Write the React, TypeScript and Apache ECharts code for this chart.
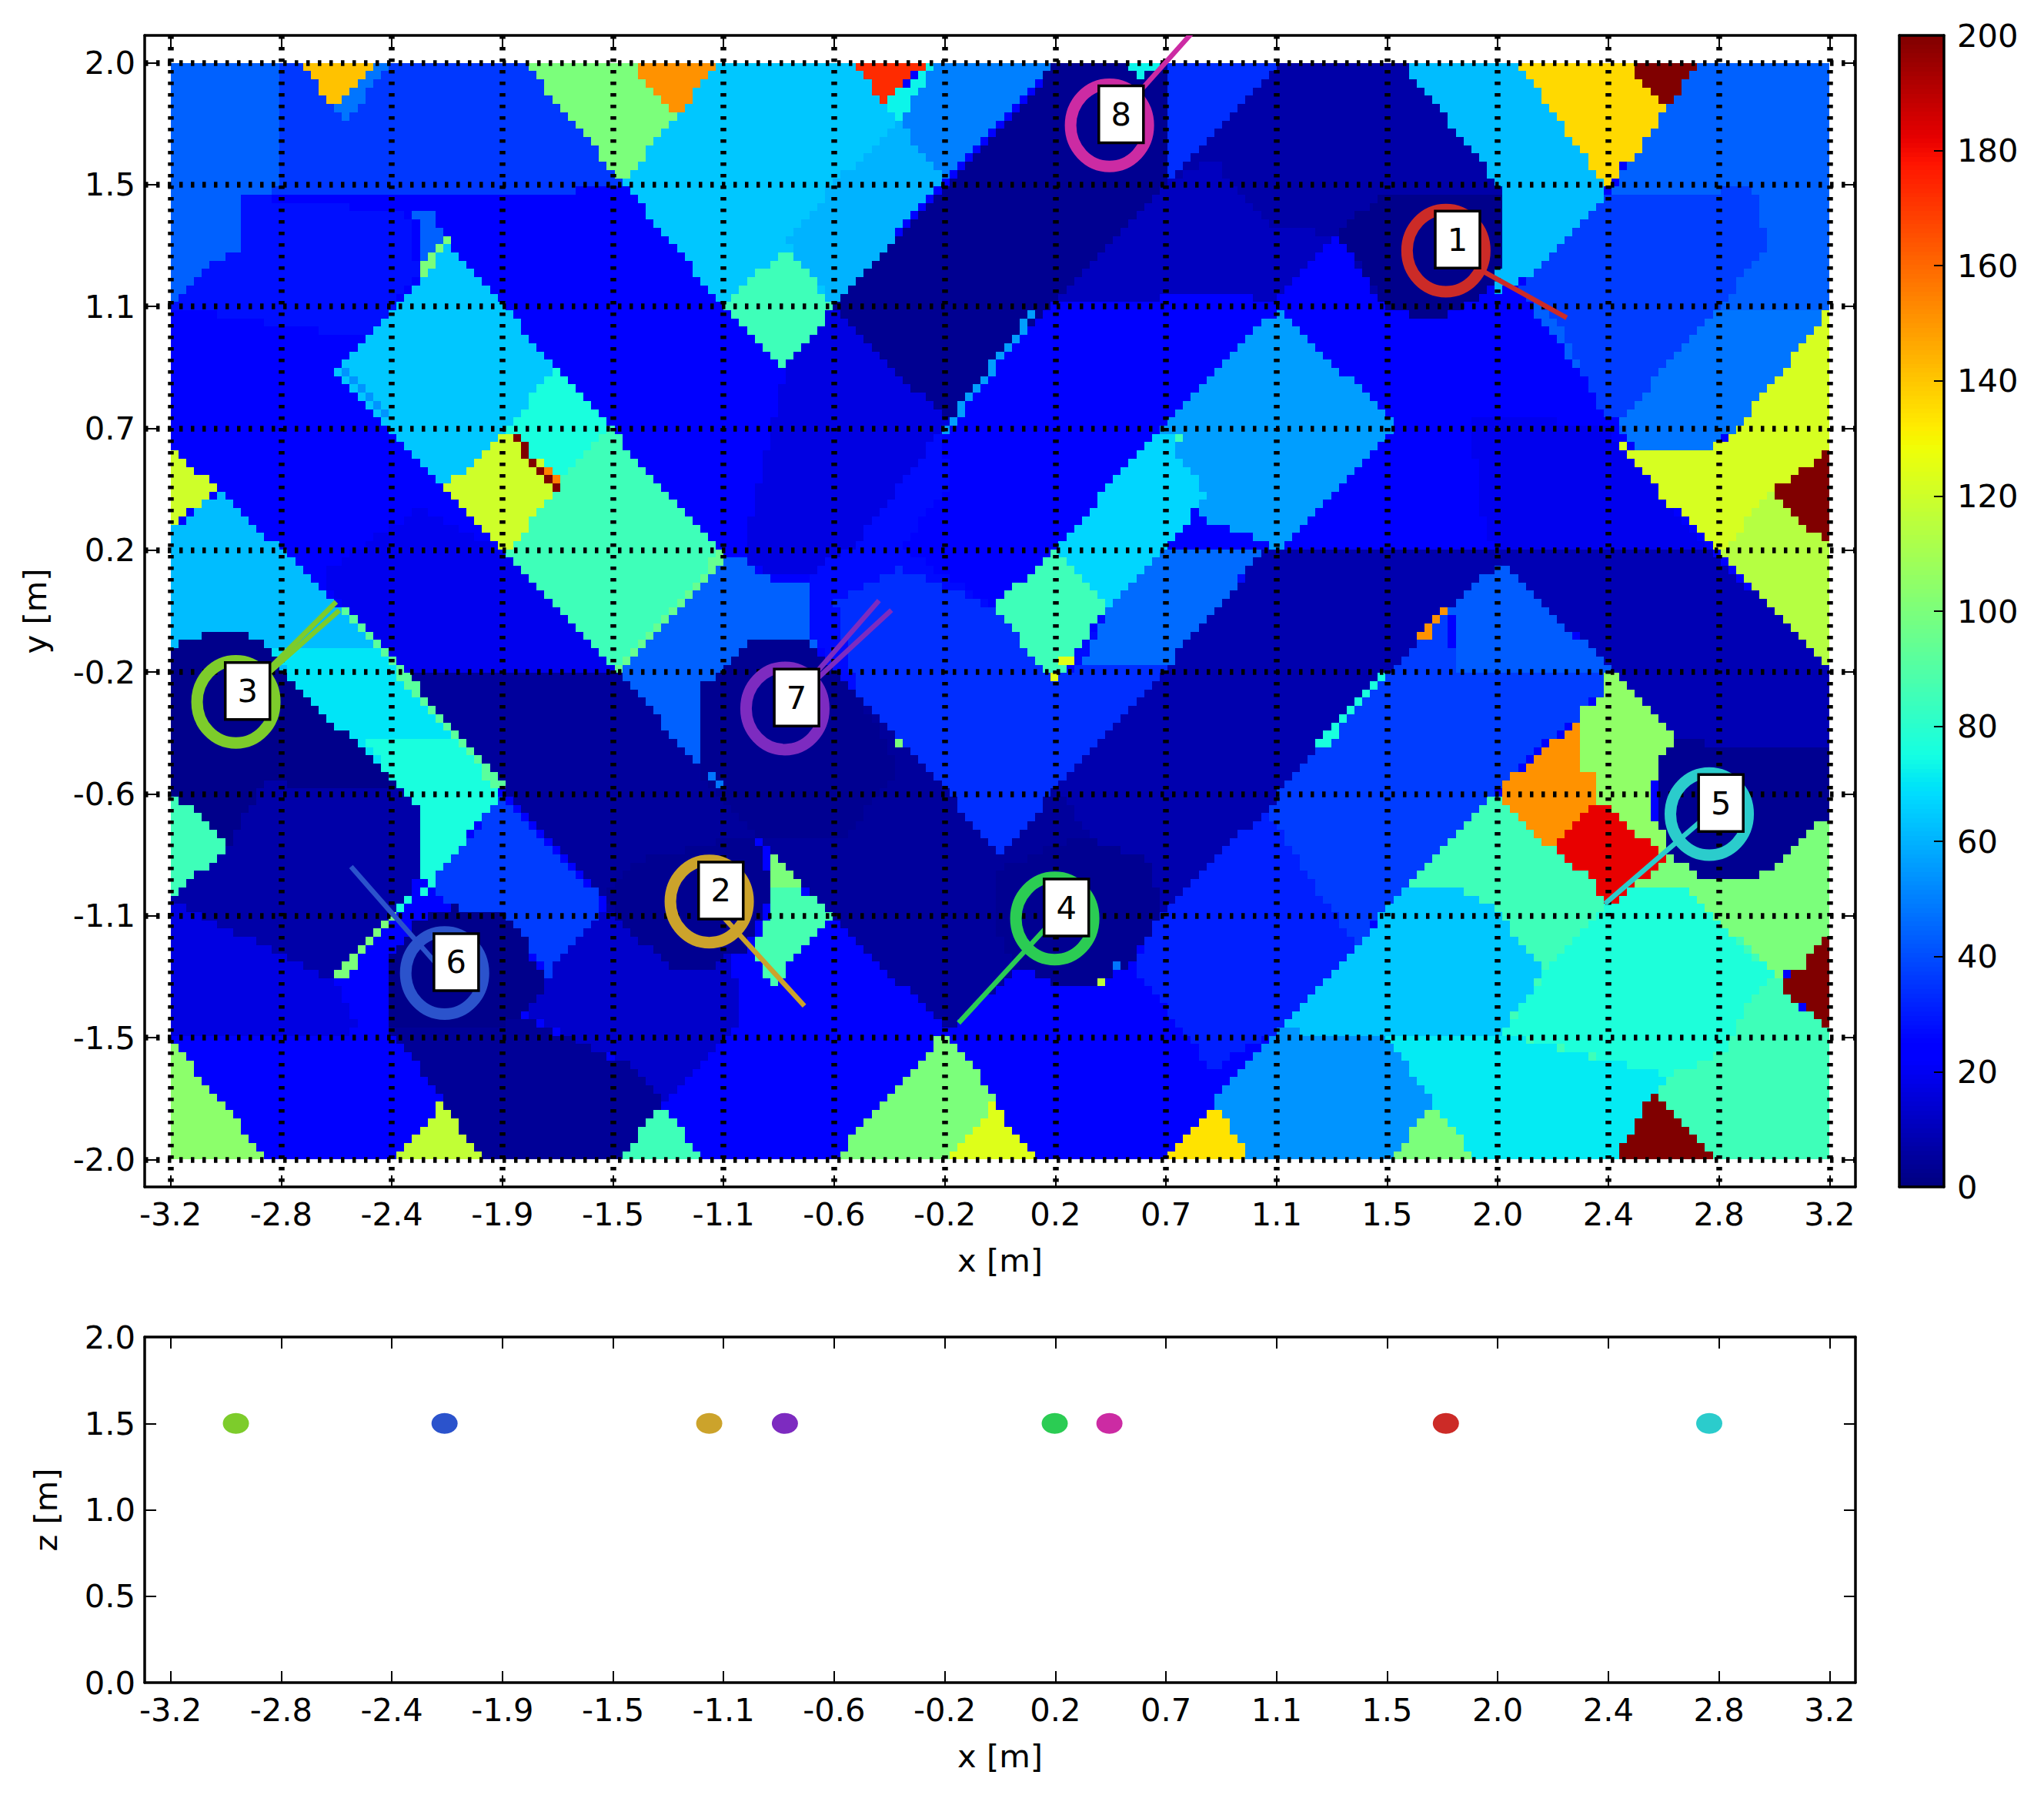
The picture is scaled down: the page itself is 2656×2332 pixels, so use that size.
import React, { useEffect, useRef } from "react";
import * as echarts from "echarts";

const xTickValues = [-3.2, -2.7733, -2.3467, -1.92, -1.4933, -1.0667, -0.64, -0.2133, 0.2133, 0.64, 1.0667, 1.4933, 1.92, 2.3467, 2.7733, 3.2];
const xTickLabels = ["-3.2", "-2.8", "-2.4", "-1.9", "-1.5", "-1.1", "-0.6", "-0.2", "0.2", "0.7", "1.1", "1.5", "2.0", "2.4", "2.8", "3.2"];
const yTickValues = [-2, -1.5556, -1.1111, -0.6667, -0.2222, 0.2222, 0.6667, 1.1111, 1.5556, 2];
const yTickLabels = ["-2.0", "-1.5", "-1.1", "-0.6", "-0.2", "0.2", "0.7", "1.1", "1.5", "2.0"];

const speakerIds = ["1", "2", "3", "4", "5", "6", "7", "8"];
const speakerX = [1.72, -1.122, -2.948, 0.211, 2.736, -2.143, -0.83, 0.422];
const speakerY = [1.315, -1.059, -0.331, -1.121, -0.74, -1.32, -0.355, 1.772];
const speakerZ = [1.5, 1.5, 1.5, 1.5, 1.5, 1.5, 1.5, 1.5];
const speakerColors = ["#cc2b27", "#cca32b", "#7dcc2b", "#2bcc53", "#2bcccc", "#2b53cc", "#7d2bc0", "#cc2ba3"];
// speaker index, end of the ray (x, y) in metres
const rays = [
  [0, 2.186, 1.07], [1, -0.755, -1.44], [2, -2.561, 0.034], [2, -2.549, 0.003], [3, -0.16, -1.502],
  [4, 2.334, -1.067], [5, -2.504, -0.932], [6, -0.467, 0.039], [6, -0.419, 0.004], [7, 0.76, 2.13],
];

const baseValue = 23;
const regions: number[][] = [
  [28, -2.919,1.515, -2.286,1.453, -2.246,1.225, -2.447,0.992, -3.2,1.11],
  [36, -3.2,2, -1.835,2, -1.458,1.572, -1.493,1.539, -2.126,1.515, -2.919,1.515, -3.2,1.11],
  [44, -3.2,2, -2.788,2, -2.788,1.539, -2.919,1.515, -2.919,1.334, -3.024,1.277, -3.2,1.125],
  [44, -2.286,1.453, -2.196,1.453, -2.141,1.386, -2.246,1.225, -2.246,1.425],
  [48, -2.417,2, -2.362,2, -2.522,1.772, -2.557,1.824, -2.572,1.829],
  [141, -2.693,2, -2.417,2, -2.572,1.829],
  [100, -1.835,2, -1.423,2, -1.252,1.8, -1.458,1.567],
  [151, -1.423,2, -1.087,2, -1.252,1.796],
  [64, -1.458,1.567, -1.252,1.796, -1.087,2, -0.559,2, -0.459,1.857, -0.389,1.796, -0.208,1.581, -0.64,1.115, -1.071,1.115],
  [60, -0.389,1.781, -0.208,1.581, -0.64,1.115, -0.715,1.206, -0.825,1.349, -0.64,1.562],
  [50, -0.278,2, 0.224,2, -0.208,1.581, -0.389,1.776, -0.338,1.895],
  [173, -0.559,2, -0.278,2, -0.459,1.857],
  [73, -0.278,2, -0.238,2, -0.389,1.796, -0.444,1.857, -0.364,1.914],
  [11, 0.645,1.562, 1.027,1.967, 1.067,2, 1.554,2, 1.9,1.581, 1.94,1.505, 1.94,1.282, 1.885,1.163, 1.73,1.082, 1.589,1.082, 1.484,1.115, 1.298,1.367, 1.067,1.13, 0.866,1.158, 0.194,1.115, 0.58,1.5],
  [7, 1.027,1.967, 1.067,2, 1.554,2, 1.9,1.581, 1.94,1.505, 1.94,1.282, 1.885,1.163, 1.73,1.082, 1.589,1.082, 1.484,1.115, 1.298,1.367, 1.017,1.42, 0.816,1.656, 0.645,1.562],
  [2, 1.338,1.425, 1.499,1.524, 1.885,1.524, 1.94,1.505, 1.94,1.282, 1.885,1.163, 1.73,1.082, 1.589,1.082, 1.484,1.115, 1.438,1.191, 1.308,1.367],
  [3, 0.224,2, 0.64,2, 0.64,1.562, 0.58,1.5, -0.208,0.692, -0.64,1.115],
  [17, -0.64,1.115, -0.208,0.692, -0.238,0.649, -0.559,0.245, -0.725,0.14, -0.876,0.121, -0.971,0.179, -0.966,0.326, -0.831,0.878],
  [85, -0.831,1.329, -0.64,1.115, -0.831,0.878, -1.056,1.115],
  [56, -0.238,0.649, 0.119,1.096, 0.149,1.096, -0.208,0.649],
  [34, 0.64,2, 1.067,2, 0.645,1.562],
  [73, 0.475,2, 0.63,2, 0.535,1.948],
  [62, 1.554,2, 2,2, 2.337,1.543, 2.347,1.515, 2,1.191, 1.89,1.163, 1.94,1.282, 1.94,1.505, 1.9,1.581],
  [136, 2,2, 2.423,2, 2.563,1.824, 2.533,1.743, 2.397,1.62, 2.357,1.534, 2.337,1.543],
  [200, 2.423,2, 2.698,2, 2.563,1.824],
  [44, 2.347,1.515, 2.563,1.824, 2.698,2, 3.2,2, 3.2,1.101, 2.864,0.692, 2.734,0.587, 2.457,0.587, 2.387,0.683, 2,1.173],
  [37, 2.347,1.515, 2.734,1.515, 2.819,1.562, 2.904,1.539, 2.95,1.386, 2.95,1.325, 2.804,1.144, 2.749,1.096, 2.387,0.692, 2.332,0.702, 2.146,1.068, 2,1.173],
  [48, 2.749,1.096, 3.2,1.101, 2.864,0.692, 2.734,0.587, 2.457,0.587, 2.387,0.692],
  [122, 3.2,1.101, 2.864,0.692, 2.784,0.621, 2.734,0.587, 2.457,0.587, 2.372,0.63, 2.423,0.526, 2.789,0.216, 2.965,0.407, 3.185,0.583, 3.2,0.583],
  [114, 2.965,0.43, 3.2,0.24, 3.2,-0.207, 2.789,0.216],
  [200, 3.2,0.592, 3.2,0.231, 2.975,0.435],
  [19, 1.82,0.707, 2.347,0.683, 2.372,0.611, 2.734,0.231, 1.906,0.226, 1.846,0.397],
  [5, -1.152,-0.587, -1.533,-1.049, -1.493,-1.101, -1.453,-1.139, -1.307,-1.272, -1.252,-1.305, -1.107,-1.305, -1.056,-1.244, -0.996,-1.244, -0.942,-0.815, -0.625,-1.129, -0.208,-1.529, 0.078,-1.3, 0.194,-1.358, 0.37,-1.358, 0.424,-1.272, 0.625,-1.101, 1.027,-0.72, 1.499,-0.216, 1.906,0.226, 1.027,0.226, 0.64,-0.207, 0.208,-0.654, 0.008,-0.892, -0.223,-0.644, -0.555,-0.292, -0.64,-0.216, -0.971,-0.116, -1.056,-0.197, -1.107,-0.245, -1.142,-0.259, -1.167,-0.345, -1.167,-0.478],
  [8, 0.64,-0.207, 1.027,0.226, 1.906,0.226, 1.93,0.179, 1.499,-0.216, 1.027,-0.72, 0.625,-1.101, 0.208,-0.654],
  [9, 1.906,0.226, 2.734,0.231, 3.2,-0.207, 3.2,-0.754, 3.09,-0.815, 3.005,-0.925, 2.9,-0.987, 2.734,-0.987, 2.588,-0.897, 2.533,-0.815, 2.533,-0.521, 2.588,-0.459, 2.382,-0.221, 2.362,-0.216, 1.93,0.179],
  [3, 2.533,-0.521, 2.608,-0.468, 2.723,-0.483, 3.2,-0.483, 3.2,-0.754, 3.09,-0.815, 3.005,-0.925, 2.9,-0.987, 2.734,-0.987, 2.588,-0.897, 2.533,-0.815],
  [27, -0.238,0.649, -0.559,0.245, -0.725,0.14, -0.725,-0.083, -0.69,-0.15, -0.64,-0.216, -0.555,-0.292, -0.223,-0.644, 0.008,-0.892, 0.208,-0.654, 0.64,-0.207, 1.027,0.226, 0.419,0.012, 0.208,-0.25, -0.027,0.012, -0.163,0.102, -0.389,0.231, -0.188,0.469],
  [34, -0.027,0.012, 0.208,-0.254, 0.304,-0.197, 0.64,-0.207, 0.208,-0.654, 0.008,-0.892, -0.223,-0.644, -0.555,-0.292, -0.64,0.04, -0.389,0.16],
  [46, 0.625,0.231, 1.027,0.231, 0.64,-0.207, 0.304,-0.197, 0.424,0.012],
  [56, 0.585,0.64, 0.655,0.71, 1.072,1.101, 1.539,0.673, 1.112,0.254, 1.067,0.231, 0.751,0.35, 0.796,0.43, 0.69,0.554],
  [67, 0.585,0.64, 0.665,0.645, 0.69,0.554, 0.796,0.43, 0.74,0.345, 0.424,0.012, 0.208,0.226, 0.239,0.254],
  [85, 0.208,0.226, 0.419,0.017, 0.208,-0.254, -0.027,0.012],
  [125, 0.239,-0.173, 0.274,-0.173, 0.274,-0.207, 0.239,-0.207],
  [125, 0.194,-0.226, 0.224,-0.226, 0.224,-0.264, 0.194,-0.264],
  [85, 0.67,0.645, 0.695,0.645, 0.695,0.607, 0.67,0.607],
  [44, -1.066,0.207, -0.971,0.179, -0.971,0.155, -0.891,0.117, -0.745,0.117, -0.725,0.14, -0.725,-0.083, -0.69,-0.15, -0.745,-0.116, -0.971,-0.116, -1.056,-0.197, -1.107,-0.245, -1.142,-0.259, -1.167,-0.345, -1.167,-0.478, -1.152,-0.587, -1.473,-0.211],
  [19, -2.623,0.136, -2.246,0.373, -1.905,0.216, -1.473,-0.211, -1.845,-0.292, -1.925,-0.654, -2.326,-0.235],
  [5, -2.326,-0.235, -1.473,-0.211, -1.152,-0.587, -1.533,-1.049, -1.925,-0.654],
  [85, -1.503,0.664, -1.066,0.207, -1.473,-0.211, -1.905,0.21, -1.7,0.478],
  [76, -1.714,0.892, -1.503,0.664, -1.7,0.478, -1.905,0.659],
  [64, -2.126,1.339, -1.719,0.897, -1.905,0.659, -2.141,0.45, -2.557,0.873],
  [120, -1.905,0.659, -1.69,0.47, -1.905,0.21, -2.141,0.45],
  [200, -1.915,0.659, -1.885,0.659, -1.689,0.445, -1.719,0.445],
  [155, -1.759,0.526, -1.729,0.526, -1.694,0.469, -1.719,0.469],
  [54, -2.557,0.882, -2.507,0.882, -2.286,0.659, -2.347,0.697],
  [100, -2.256,1.23, -2.221,1.23, -2.106,1.358, -2.141,1.358],
  [95, -1.473,-0.211, -1.066,0.231, -1.056,0.207, -1.453,-0.216],
  [62, -3.2,0.293, -3.009,0.44, -2.542,0.007, -2.326,-0.235, -1.925,-0.654, -1.94,-0.692, -2.2,-0.987, -2.251,-0.987, -2.251,-0.72, -2.286,-0.663, -2.703,-0.288, -2.768,-0.207, -2.803,-0.15, -2.839,-0.116, -2.894,-0.088, -3.09,-0.088, -3.15,-0.116, -3.2,-0.145],
  [70, -2.803,-0.15, -2.397,-0.15, -1.925,-0.654, -1.94,-0.692, -2.2,-0.987, -2.251,-0.987, -2.251,-0.72, -2.286,-0.663, -2.703,-0.288],
  [76, -2.472,-0.459, -2.121,-0.459, -1.925,-0.654, -1.94,-0.692, -2.2,-0.987, -2.251,-0.987, -2.251,-0.72],
  [92, -2.542,0.007, -2.507,0.007, -1.9,-0.654, -1.935,-0.654],
  [120, -3.2,0.587, -3.024,0.459, -3.2,0.288],
  [2, -3.2,-0.145, -3.15,-0.116, -3.09,-0.088, -2.894,-0.088, -2.839,-0.116, -2.803,-0.15, -2.768,-0.207, -2.703,-0.288, -2.286,-0.663, -2.849,-0.625, -2.969,-0.854, -3.2,-0.654],
  [7, -2.969,-0.854, -2.849,-0.625, -2.286,-0.663, -2.251,-0.72, -2.251,-0.987, -2.331,-1.091, -2.572,-1.348, -3.2,-1.053],
  [85, -3.2,-0.654, -2.969,-0.854, -3.2,-1.053],
  [17, -3.2,-1.053, -2.572,-1.348, -2.472,-1.529, -2.698,-1.557, -3.2,-1.562],
  [37, -1.92,-0.682, -1.533,-1.049, -1.538,-1.091, -1.694,-1.3, -1.744,-1.329, -1.774,-1.272, -1.825,-1.244, -1.835,-1.186, -1.885,-1.139, -1.935,-1.101, -2.025,-1.091, -2.116,-1.077, -2.2,-0.987],
  [100, -2.583,-1.353, -2.557,-1.315, -2.337,-1.091, -2.311,-1.101, -2.527,-1.329, -2.562,-1.353],
  [76, -2.331,-1.091, -2.211,-0.987, -2.186,-0.987, -2.306,-1.101],
  [4, -2.367,-1.505, -2.326,-1.562, -2.171,-1.748, -2.156,-1.795, -2,-2, -1.473,-2, -1.307,-1.795, -1.393,-1.672, -1.845,-1.481, -2.196,-1.529],
  [13, -1.744,-1.329, -1.538,-1.091, -1.453,-1.139, -1.307,-1.272, -1.252,-1.305, -1.107,-1.305, -1.056,-1.244, -0.996,-1.386, -1.016,-1.505, -1.307,-1.795, -1.393,-1.672, -1.84,-1.467, -1.774,-1.41],
  [2, -2.367,-1.282, -2.246,-1.13, -2.116,-1.077, -2.025,-1.091, -1.935,-1.101, -1.885,-1.139, -1.835,-1.186, -1.825,-1.244, -1.754,-1.339, -1.774,-1.41, -1.84,-1.467, -1.925,-1.515, -2.196,-1.529, -2.367,-1.505],
  [117, -2.156,-1.795, -2.337,-2, -1.995,-2],
  [85, -1.307,-1.795, -1.473,-2, -1.142,-2],
  [104, -3.2,-1.562, -2.828,-2, -3.2,-2],
  [3, -0.971,-0.116, -0.745,-0.116, -0.69,-0.173, -0.64,-0.216, -0.555,-0.292, -0.389,-0.578, -0.59,-0.815, -0.942,-0.815, -1.142,-0.625, -1.167,-0.478, -1.167,-0.345, -1.142,-0.259, -1.107,-0.245, -1.056,-0.197],
  [3, -1.518,-1.006, -1.393,-0.91, -1.192,-0.863, -0.981,-0.815, -0.911,-0.863, -0.891,-1.053, -0.991,-1.244, -1.056,-1.244, -1.107,-1.305, -1.252,-1.305, -1.307,-1.272, -1.453,-1.139, -1.493,-1.101],
  [3, -0.022,-0.953, 0.314,-0.815, 0.565,-0.91, 0.63,-1.101, 0.505,-1.282, 0.37,-1.358, 0.194,-1.358, 0.078,-1.3, 0.008,-1.215, -0.022,-1.139],
  [100, -0.942,-0.815, -0.69,-1.053, -0.765,-1.015, -0.891,-1.015, -0.891,-0.863],
  [87, -0.891,-1.015, -0.765,-1.015, -0.645,-1.11, -0.876,-1.362, -0.966,-1.244, -0.891,-1.101],
  [100, -0.419,-0.454, -0.389,-0.454, -0.389,-0.492, -0.419,-0.492],
  [48, 0.44,-1.272, 0.475,-1.272, 0.475,-1.31, 0.44,-1.31],
  [116, 0.39,-1.329, 0.42,-1.329, 0.42,-1.367, 0.39,-1.367],
  [48, -1.137,-0.578, -1.107,-0.578, -1.072,-0.635, -1.102,-0.635],
  [37, 1.71,-0.007, 1.77,-0.216, 2.357,-0.216, 2.337,-0.23, 2.337,-0.321, 2.287,-0.316, 2.252,-0.349, 2.252,-0.378, 2.121,-0.464, 1.93,-0.644, 1.835,-0.72, 1.559,-1.015, 1.368,-1.224, 1.167,-1.434, 0.967,-0.863, 1.027,-0.72, 1.499,-0.216],
  [43, 1.93,0.179, 2.357,-0.216, 1.77,-0.216, 1.745,-0.031, 1.71,-0.007],
  [31, 1.027,-0.72, 1.368,-1.224, 1.167,-1.434, 1.067,-1.529, 0.816,-1.672, 0.515,-1.291, 0.625,-1.101],
  [76, 1.208,-0.506, 1.454,-0.235, 1.489,-0.235, 1.243,-0.506],
  [151, 1.609,-0.107, 1.644,-0.107, 1.72,0.002, 1.69,0.002],
  [85, 2.4,-1, 2.7,-1, 3.05,-1.36, 2.9,-1.42, 2.56,-1.72, 1.9,-1.56, 2,-1.3],
  [85, 1.89,-0.663, 2.141,-0.868, 2.312,-1.01, 2.332,-1.091, 2.096,-1.31, 1.911,-1.091, 1.78,-1.015, 1.564,-1.015],
  [151, 2.252,-0.378, 2.252,-0.578, 2.287,-0.578, 2.287,-0.692, 2.121,-0.863, 1.94,-0.692, 1.93,-0.644],
  [182, 2.287,-0.692, 2.337,-0.692, 2.563,-0.906, 2.362,-1.077, 2.312,-1.034, 2.312,-0.987, 2.2,-0.925, 2.141,-0.854],
  [105, 2.377,-0.226, 2.588,-0.435, 2.588,-0.488, 2.533,-0.53, 2.533,-0.606, 2.508,-0.625, 2.508,-0.758, 2.563,-0.815, 2.563,-0.906, 2.337,-0.692, 2.287,-0.692, 2.287,-0.578, 2.252,-0.578, 2.252,-0.349, 2.337,-0.321, 2.337,-0.23],
  [100, 3.2,-0.754, 3.09,-0.815, 3.005,-0.925, 2.9,-0.987, 2.734,-0.987, 2.588,-0.897, 2.563,-0.91, 2.473,-0.987, 2.423,-1.015, 2.649,-1.015, 2.739,-1.101, 2.849,-1.196, 2.985,-1.329, 3.09,-1.305, 3.175,-1.186, 3.2,-1.186],
  [200, 3.2,-1.177, 3.2,-1.539, 3.005,-1.362, 3.09,-1.3],
  [85, 3.2,-1.529, 3.005,-1.377, 2.92,-1.396, 2.849,-1.481, 2.809,-1.591, 2.673,-1.657, 2.583,-1.695, 2.518,-1.767, 2.754,-2, 3.2,-2],
  [200, 2.518,-1.767, 2.367,-2, 2.754,-2],
  [77, 2.423,-1.015, 2.649,-1.015, 2.985,-1.329, 2.92,-1.396, 2.849,-1.481, 2.809,-1.591, 2.673,-1.657, 2.583,-1.695, 2.121,-1.576, 1.926,-1.543, 2.056,-1.386, 2.096,-1.315, 2.332,-1.091],
  [64, 1.564,-1.015, 1.78,-1.015, 1.911,-1.091, 2.096,-1.315, 1.926,-1.543, 1.489,-1.553, 1.067,-1.539],
  [54, 1.067,-1.529, 1.489,-1.553, 1.669,-1.79, 1.504,-2, 0.972,-2, 0.82,-1.795],
  [71, 1.926,-1.543, 2.583,-1.695, 2.518,-1.767, 2.367,-2, 1.835,-2, 1.669,-1.795, 1.489,-1.553],
  [100, 1.669,-1.795, 1.504,-2, 1.835,-2],
  [134, 0.82,-1.795, 0.64,-2, 0.972,-2],
  [100, -0.213,-1.534, -0.027,-1.757, -0.027,-1.8, -0.1,-2, -0.64,-2],
  [124, -0.027,-1.795, -0.193,-2, 0.139,-2],
];

const colorbarTop = 200;
const colorbarSteps = 256;
const FONT = "DejaVu Sans";
const FS = 41.67;
const BLACK = "#000";

const lerpTable = (t: number, tbl: number[][]) => {
  for (let i = 1; i < tbl.length; i++) {
    if (t <= tbl[i][0]) {
      const [a, va] = tbl[i - 1];
      const [b, vb] = tbl[i];
      return va + ((t - a) / (b - a)) * (vb - va);
    }
  }
  return tbl[tbl.length - 1][1];
};
const jetR = [[0, 0], [0.35, 0], [0.66, 1], [0.89, 1], [1, 0.5]];
const jetG = [[0, 0], [0.125, 0], [0.375, 1], [0.64, 1], [0.91, 0], [1, 0]];
const jetB = [[0, 0.5], [0.11, 1], [0.34, 1], [0.65, 0], [1, 0]];
const jet = (v: number) => {
  const t = Math.max(0, Math.min(1, v / colorbarTop));
  const c = (tbl: number[][]) => Math.round(lerpTable(t, tbl) * 255);
  return `rgb(${c(jetR)},${c(jetG)},${c(jetB)})`;
};

const inside = (x: number, y: number, r: number[]) => {
  let hit = false;
  const n = (r.length - 1) / 2;
  for (let i = 0, j = n - 1; i < n; j = i++) {
    const xi = r[1 + 2 * i], yi = r[2 + 2 * i], xj = r[1 + 2 * j], yj = r[2 + 2 * j];
    if (yi > y !== yj > y && x < ((xj - xi) * (y - yi)) / (yj - yi) + xi) hit = !hit;
  }
  return hit;
};

// value matrix: one row per 0.03 m, adjacent equal cells are joined
const COLS = 213;
const ROWS = 133;
const buildCells = () => {
  const dx = 6.4 / COLS, dy = 4 / ROWS;
  const out: number[][] = [];
  for (let j = 0; j < ROWS; j++) {
    const y = -2 + (j + 0.5) * dy;
    let runStart = 0;
    let prev = NaN;
    for (let i = 0; i <= COLS; i++) {
      let v = NaN;
      if (i < COLS) {
        const x = -3.2 + (i + 0.5) * dx;
        v = baseValue;
        for (let k = regions.length - 1; k >= 0; k--) {
          if (inside(x, y, regions[k])) { v = regions[k][0]; break; }
        }
      }
      if (v !== prev) {
        if (i > 0) out.push([-3.2 + runStart * dx, -3.2 + i * dx, -2 + j * dy, -2 + (j + 1) * dy, prev]);
        runStart = i;
        prev = v;
      }
    }
  }
  return out;
};

const cellRect = (_: any, api: any) => {
  const a = api.coord([api.value(0), api.value(2)]);
  const b = api.coord([api.value(1), api.value(3)]);
  const x = Math.round(a[0]), r = Math.round(b[0]), t = Math.round(b[1]), bt = Math.round(a[1]);
  return { type: "rect", shape: { x, y: t, width: r - x, height: bt - t }, style: { fill: jet(api.value(4)) } };
};

const label = (extra: any = {}) => ({ color: BLACK, fontFamily: FONT, fontSize: FS, ...extra });
const tickStyle = { color: BLACK, width: 2 };
const frame = { show: true, onZero: false, lineStyle: { color: BLACK, width: 3.5 } };
const dots = { show: true, lineStyle: { color: BLACK, width: 7.5, type: [4.5, 10.5], cap: "butt" } };

const fmt = (vals: number[], labs: string[]) => (v: number) => {
  const i = vals.findIndex((t) => Math.abs(t - v) < 1e-3);
  return i >= 0 ? labs[i] : "";
};

const xAxisAt = (gridIndex: number, position: string, main: boolean, withGrid: boolean) => ({
  type: "value", gridIndex, position, min: -3.3, max: 3.3, z: 5,
  axisLine: frame,
  axisTick: { show: true, inside: true, length: 15, lineStyle: tickStyle, customValues: xTickValues },
  axisLabel: main
    ? { show: true, customValues: xTickValues, formatter: fmt(xTickValues, xTickLabels), margin: 14, showMinLabel: true, showMaxLabel: true, ...label() }
    : { show: false },
  splitLine: withGrid ? dots : { show: false },
  ...(main ? { name: "x [m]", nameLocation: "middle", nameGap: 74, nameTextStyle: label() } : {}),
});

const topYAxis = (position: string, main: boolean) => ({
  type: "value", gridIndex: 0, position, min: -2.1, max: 2.1, z: 5,
  axisLine: frame,
  axisTick: { show: true, inside: true, length: 15, lineStyle: tickStyle, customValues: yTickValues },
  axisLabel: main
    ? { show: true, customValues: yTickValues, formatter: fmt(yTickValues, yTickLabels), margin: 12, showMinLabel: true, showMaxLabel: true, ...label() }
    : { show: false },
  splitLine: main ? dots : { show: false },
  ...(main ? { name: "y [m]", nameLocation: "middle", nameGap: 122, nameRotate: 90, nameTextStyle: label() } : {}),
});

const lowYAxis = (position: string, main: boolean) => ({
  type: "value", gridIndex: 1, position, min: 0, max: 2, interval: 0.5, z: 5,
  axisLine: frame,
  axisTick: { show: true, inside: true, length: 15, lineStyle: tickStyle },
  axisLabel: main ? { show: true, margin: 12, formatter: (v: number) => v.toFixed(1), showMinLabel: true, showMaxLabel: true, ...label() } : { show: false },
  splitLine: { show: false },
  ...(main ? { name: "z [m]", nameLocation: "middle", nameGap: 108, nameRotate: 90, nameTextStyle: label() } : {}),
});

export default function App() {
  const ref = useRef<HTMLDivElement>(null);
  useEffect(() => {
    if (!ref.current) return;
    const chart = echarts.init(ref.current, undefined, { renderer: "svg" });
    const colorbarCells: number[][] = [];
    for (let i = 0; i < colorbarSteps; i++) {
      const lo = (i / colorbarSteps) * colorbarTop, hi = ((i + 1) / colorbarSteps) * colorbarTop;
      colorbarCells.push([0, 1, lo, hi, (lo + hi) / 2]);
    }
    const barX = { type: "value", gridIndex: 2, min: 0, max: 1, z: 5, axisLine: frame, axisTick: { show: false }, axisLabel: { show: false }, splitLine: { show: false } };
    chart.setOption({
      animation: false,
      backgroundColor: "#fff",
      grid: [
        { left: 188, top: 46, width: 2223, height: 1496, outerBoundsMode: "none" },
        { left: 188, top: 1737, width: 2223, height: 449, outerBoundsMode: "none" },
        { left: 2468, top: 46, width: 58, height: 1496, outerBoundsMode: "none" },
      ],
      xAxis: [
        xAxisAt(0, "bottom", true, true), xAxisAt(0, "top", false, false),
        xAxisAt(1, "bottom", true, false), xAxisAt(1, "top", false, false),
        { ...barX, position: "bottom" }, { ...barX, position: "top" },
      ],
      yAxis: [
        topYAxis("left", true), topYAxis("right", false),
        lowYAxis("left", true), lowYAxis("right", false),
        {
          type: "value", gridIndex: 2, position: "right", min: 0, max: colorbarTop, interval: 20, z: 5,
          axisLine: frame,
          axisTick: { show: true, inside: true, length: 13, lineStyle: tickStyle },
          axisLabel: { show: true, margin: 17, showMinLabel: true, showMaxLabel: true, ...label() },
          splitLine: { show: false },
        },
        { type: "value", gridIndex: 2, position: "left", min: 0, max: colorbarTop, z: 5, axisLine: frame, axisTick: { show: false }, axisLabel: { show: false }, splitLine: { show: false } },
      ],
      series: [
        {
          type: "custom", xAxisIndex: 0, yAxisIndex: 0, silent: true, z: 2, clip: true,
          encode: { x: [0, 1], y: [2, 3] }, data: buildCells(), renderItem: cellRect,
        },
        {
          type: "custom", xAxisIndex: 4, yAxisIndex: 4, silent: true, z: 2,
          encode: { x: [0, 1], y: [2, 3] }, data: colorbarCells, renderItem: cellRect,
        },
        {
          type: "custom", xAxisIndex: 0, yAxisIndex: 0, silent: true, z: 10, clip: true,
          encode: { x: [1, 3], y: [2, 4] },
          data: rays.map(([s, ex, ey]) => [s, speakerX[s], speakerY[s], ex, ey]),
          renderItem: (_: any, api: any) => {
            const a = api.coord([api.value(1), api.value(2)]);
            const b = api.coord([api.value(3), api.value(4)]);
            return { type: "line", shape: { x1: a[0], y1: a[1], x2: b[0], y2: b[1] }, style: { stroke: speakerColors[api.value(0)], lineWidth: 6.5, fill: "none" } };
          },
        },
        {
          type: "custom", xAxisIndex: 0, yAxisIndex: 0, silent: true, z: 11, clip: true,
          encode: { x: 1, y: 2 },
          data: speakerX.map((x, i) => [i, x, speakerY[i]]),
          renderItem: (_: any, api: any) => {
            const c = api.coord([api.value(1), api.value(2)]);
            const s = api.size([0.15, 0.15]);
            return { type: "ellipse", shape: { cx: c[0], cy: c[1], rx: s[0], ry: s[1] }, style: { fill: "none", stroke: speakerColors[api.value(0)], lineWidth: 15 } };
          },
        },
        {
          type: "custom", xAxisIndex: 0, yAxisIndex: 0, silent: true, z: 12, clip: true,
          encode: { x: 1, y: 2 },
          data: speakerX.map((x, i) => [i, x + 0.045, speakerY[i] + 0.04]),
          renderItem: (_: any, api: any) => {
            const c = api.coord([api.value(1), api.value(2)]);
            return {
              type: "group",
              children: [
                { type: "rect", shape: { x: c[0] - 29, y: c[1] - 37, width: 58, height: 74 }, style: { fill: "#fff", stroke: BLACK, lineWidth: 3.5 } },
                { type: "text", x: c[0], y: c[1], style: { text: speakerIds[api.value(0)], x: 0, y: 0, align: "center", verticalAlign: "middle", fill: BLACK, font: `${FS}px "${FONT}"` } },
              ],
            };
          },
        },
        {
          type: "scatter", xAxisIndex: 2, yAxisIndex: 2, silent: true, z: 6, symbol: "circle", symbolSize: [34, 27],
          data: speakerX.map((x, i) => ({ value: [x, speakerZ[i]], itemStyle: { color: speakerColors[i], opacity: 1 } })),
        },
      ],
    });
    return () => chart.dispose();
  }, []);
  return <div ref={ref} style={{ position: "fixed", left: 0, top: 0, width: 2656, height: 2332, background: "#fff" }} />;
}
